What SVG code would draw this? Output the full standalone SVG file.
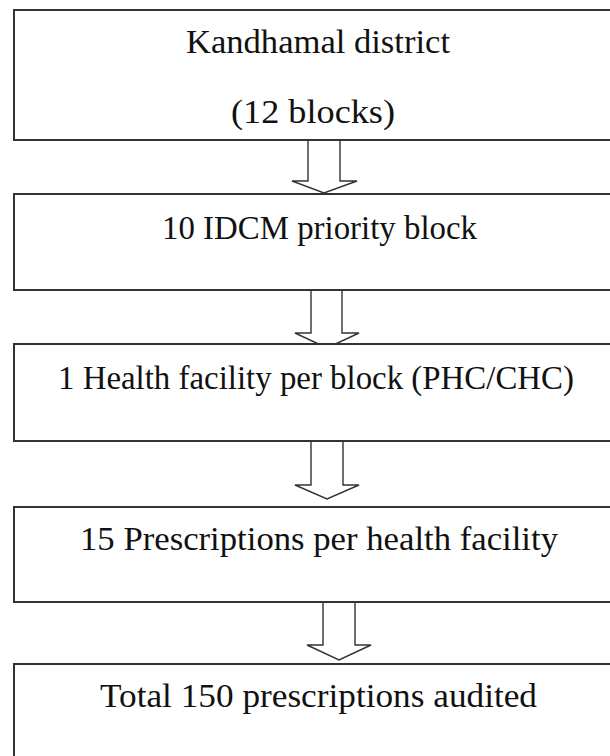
<svg xmlns="http://www.w3.org/2000/svg" width="610" height="756" viewBox="0 0 610 756">
<style>
.box{fill:#fff;stroke:#333;stroke-width:2}
.arr{fill:#fff;stroke:#333;stroke-width:1.4;stroke-linejoin:miter}
.t{font-family:"Liberation Serif","Times New Roman",serif;font-size:33.5px;fill:#111;text-anchor:middle}
</style>
<rect width="610" height="756" fill="#fff"/>
<g id="connectors">
<path class="arr" d="M308,140 V181 H292 L324,193 L357,181 H340 V140"/>
<path class="arr" d="M311,290 V333 H295 L327,348 L359,333 H342 V290"/>
<path class="arr" d="M311,441 V485 H295 L327,499 L359,485 H343 V441"/>
<path class="arr" d="M323,602 V645 H307 L339,660 L371,645 H355 V602"/>
</g>
<g id="node1">
<rect class="box" x="14" y="10" width="610" height="130"/>
<text class="t" x="318" y="53" textLength="264" lengthAdjust="spacingAndGlyphs">Kandhamal district</text>
<text class="t" x="313" y="123" textLength="164" lengthAdjust="spacingAndGlyphs">(12 blocks)</text>
</g>
<g id="node2">
<rect class="box" x="14" y="194" width="610" height="96"/>
<text class="t" x="319.5" y="239" textLength="315" lengthAdjust="spacingAndGlyphs">10 IDCM priority block</text>
</g>
<g id="node3">
<rect class="box" x="14" y="344" width="610" height="97"/>
<text class="t" x="316" y="389" textLength="516" lengthAdjust="spacingAndGlyphs">1 Health facility per block (PHC/CHC)</text>
</g>
<g id="node4">
<rect class="box" x="14" y="507" width="610" height="95"/>
<text class="t" x="319" y="550" textLength="478" lengthAdjust="spacingAndGlyphs">15 Prescriptions per health facility</text>
</g>
<g id="node5">
<rect class="box" x="14" y="664" width="610" height="120"/>
<text class="t" x="318.5" y="707" textLength="437" lengthAdjust="spacingAndGlyphs">Total 150 prescriptions audited</text>
</g>
</svg>
